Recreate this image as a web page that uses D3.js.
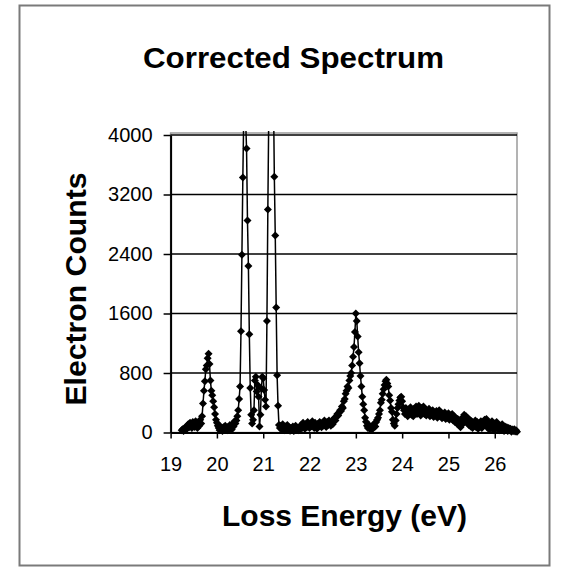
<!DOCTYPE html>
<html><head><meta charset="utf-8">
<script src="https://cdn.jsdelivr.net/npm/d3@7"></script>
<style>
body{margin:0;background:#fff}
svg{display:block}
text{font-family:Arial,"Liberation Sans",sans-serif;fill:#000}
</style></head><body>
<svg id="c" width="571" height="571"></svg>
<script>
const chartTitle = "Corrected Spectrum";
const xTitle = "Loss Energy (eV)";
const yTitle = "Electron Counts";
const xTicks = [19, 20, 21, 22, 23, 24, 25, 26];
const yTicks = [0, 800, 1600, 2400, 3200, 4000];

const energy = [
19.24,19.26,19.28,19.30,19.32,19.34,19.36,19.38,19.40,19.42,
19.44,19.46,19.48,19.50,19.52,19.54,19.56,19.58,19.60,19.62,
19.64,19.66,19.68,19.70,19.72,19.74,19.76,19.78,19.80,19.82,
19.84,19.86,19.88,19.90,19.92,19.94,19.96,19.98,20.00,20.02,
20.04,20.06,20.08,20.10,20.12,20.14,20.16,20.18,20.20,20.22,
20.24,20.26,20.28,20.30,20.32,20.34,20.36,20.38,20.40,20.42,
20.44,20.46,20.48,20.50,20.52,20.54,20.56,20.58,20.60,20.62,
20.64,20.66,20.68,20.70,20.72,20.74,20.76,20.78,20.80,20.82,
20.84,20.86,20.88,20.90,20.92,20.94,20.96,20.98,21.00,21.02,
21.04,21.06,21.08,21.10,21.12,21.14,21.16,21.18,21.20,21.22,
21.24,21.26,21.28,21.30,21.32,21.34,21.36,21.38,21.40,21.42,
21.44,21.46,21.48,21.50,21.52,21.54,21.56,21.58,21.60,21.62,
21.64,21.66,21.68,21.70,21.72,21.74,21.76,21.78,21.80,21.82,
21.84,21.86,21.88,21.90,21.92,21.94,21.96,21.98,22.00,22.02,
22.04,22.06,22.08,22.10,22.12,22.14,22.16,22.18,22.20,22.22,
22.24,22.26,22.28,22.30,22.32,22.34,22.36,22.38,22.40,22.42,
22.44,22.46,22.48,22.50,22.52,22.54,22.56,22.58,22.60,22.62,
22.64,22.66,22.68,22.70,22.72,22.74,22.76,22.78,22.80,22.82,
22.84,22.86,22.88,22.90,22.92,22.94,22.96,22.98,23.00,23.02,
23.04,23.06,23.08,23.10,23.12,23.14,23.16,23.18,23.20,23.22,
23.24,23.26,23.28,23.30,23.32,23.34,23.36,23.38,23.40,23.42,
23.44,23.46,23.48,23.50,23.52,23.54,23.56,23.58,23.60,23.62,
23.64,23.66,23.68,23.70,23.72,23.74,23.76,23.78,23.80,23.82,
23.84,23.86,23.88,23.90,23.92,23.94,23.96,23.98,24.00,24.02,
24.04,24.06,24.08,24.10,24.12,24.14,24.16,24.18,24.20,24.22,
24.24,24.26,24.28,24.30,24.32,24.34,24.36,24.38,24.40,24.42,
24.44,24.46,24.48,24.50,24.52,24.54,24.56,24.58,24.60,24.62,
24.64,24.66,24.68,24.70,24.72,24.74,24.76,24.78,24.80,24.82,
24.84,24.86,24.88,24.90,24.92,24.94,24.96,24.98,25.00,25.02,
25.04,25.06,25.08,25.10,25.12,25.14,25.16,25.18,25.20,25.22,
25.24,25.26,25.28,25.30,25.32,25.34,25.36,25.38,25.40,25.42,
25.44,25.46,25.48,25.50,25.52,25.54,25.56,25.58,25.60,25.62,
25.64,25.66,25.68,25.70,25.72,25.74,25.76,25.78,25.80,25.82,
25.84,25.86,25.88,25.90,25.92,25.94,25.96,25.98,26.00,26.02,
26.04,26.06,26.08,26.10,26.12,26.14,26.16,26.18,26.20,26.22,
26.24,26.26,26.28,26.30,26.32,26.34,26.36,26.38,26.40,26.42,
26.44,26.46,26.48
];

const counts = [
30,45,20,60,40,80,55,110,70,130,
90,60,140,100,75,150,110,60,130,90,
170,120,220,390,560,690,850,900,1000,1060,
920,700,560,500,420,340,250,170,130,90,
60,30,80,45,20,70,40,90,55,30,
75,50,100,60,40,110,80,150,120,160,
220,300,450,620,1360,2390,3430,4300,4600,4200,
3820,2850,2240,1320,600,240,120,170,300,700,
750,550,640,480,80,240,590,750,730,570,
440,350,1500,3000,4300,5300,5800,5600,5200,4600,
3440,2650,1680,770,360,100,60,90,40,110,
70,30,80,55,100,40,70,25,60,35,
80,20,50,90,40,65,30,75,45,100,
60,130,80,50,110,70,140,90,60,120,
85,150,95,60,130,90,50,115,80,140,
100,70,130,95,160,110,75,140,100,160,
120,90,150,110,170,200,160,210,250,230,
270,300,290,350,330,420,450,520,560,620,
600,700,760,800,900,1020,1150,1350,1600,1500,
1290,1080,930,760,620,480,380,300,200,145,
90,60,100,50,80,40,90,60,120,80,
140,170,200,250,300,400,440,520,580,640,
690,710,660,620,500,430,330,280,170,120,
90,160,250,330,380,430,470,480,420,340,
300,250,330,280,220,310,260,340,240,300,
220,320,270,350,250,310,360,280,230,330,
290,350,250,310,230,290,250,320,220,280,
240,300,210,270,230,290,200,260,300,220,
270,190,250,210,270,180,240,200,260,170,
230,190,250,160,220,140,200,120,180,100,
160,70,140,200,120,240,170,220,130,190,
100,170,80,150,60,130,90,160,70,140,
50,120,80,150,60,130,90,170,110,180,
70,140,40,110,60,150,80,30,120,60,
140,50,100,30,90,40,110,60,20,80,
40,70,20,60,30,50,10,40,20,45,
15,30,10
];

const data = energy.map((e, i) => ({e: e, c: counts[i]}));

const svg = d3.select("#c");
const L = 170.6, R = 517, T = 135, B = 432.5, clipTop = 131;

const x = d3.scaleLinear().domain([19, 26.48]).range([L, R]);
const y = d3.scaleLinear().domain([0, 4000]).range([B, T]);

// outer frame
svg.append("rect").attr("x", 19.5).attr("y", 5.5).attr("width", 530).attr("height", 560)
  .attr("fill", "#fff").attr("stroke", "#7a7a7a").attr("stroke-width", 2);

// title
svg.append("text").attr("x", 293.5).attr("y", 68).attr("text-anchor", "middle")
  .attr("textLength", 301).attr("lengthAdjust", "spacingAndGlyphs")
  .style("font-size", "29px").style("font-weight", "bold").text(chartTitle);

// plot area border (grey)
svg.append("rect").attr("x", L).attr("y", 133).attr("width", R - L).attr("height", B - 133)
  .attr("fill", "none").attr("stroke", "#9a9a9a").attr("stroke-width", 1.5);

// gridlines
svg.append("g").selectAll("line").data(yTicks.filter(d => d > 0)).join("line")
  .attr("x1", L).attr("x2", R).attr("y1", d => y(d)).attr("y2", d => y(d))
  .attr("stroke", "#000").attr("stroke-width", 1.6);

// axes
const yAxis = d3.axisLeft(y).tickValues(yTicks).tickSize(7).tickSizeOuter(0).tickPadding(11)
  .tickFormat(d3.format("d"));
const gy = svg.append("g").attr("transform", `translate(${L},0)`).call(yAxis);
gy.select(".domain").attr("stroke", "#000").attr("stroke-width", 2);
gy.selectAll(".tick line").attr("stroke", "#000").attr("stroke-width", 1.5);
gy.selectAll(".tick text").style("font-size", "20px").style("font-family", "Arial, 'Liberation Sans', sans-serif");

const xAxis = d3.axisBottom(x).tickValues(xTicks).tickSize(6).tickSizeOuter(0).tickPadding(18)
  .tickFormat(d3.format("d"));
const gx = svg.append("g").attr("transform", `translate(0,${B})`).call(xAxis);
gx.select(".domain").attr("stroke", "#000").attr("stroke-width", 2);
gx.selectAll(".tick line").attr("stroke", "#000").attr("stroke-width", 1.5);
gx.selectAll(".tick text").style("font-size", "20px").style("font-family", "Arial, 'Liberation Sans', sans-serif");

// axis titles
svg.append("text").attr("transform", "translate(86,289) rotate(-90)").attr("text-anchor", "middle")
  .attr("textLength", 233).attr("lengthAdjust", "spacingAndGlyphs")
  .style("font-size", "30px").style("font-weight", "bold").text(yTitle);
svg.append("text").attr("x", 344.5).attr("y", 526).attr("text-anchor", "middle")
  .attr("textLength", 245).attr("lengthAdjust", "spacingAndGlyphs")
  .style("font-size", "30px").style("font-weight", "bold").text(xTitle);

// clip
svg.append("clipPath").attr("id", "pc").append("rect")
  .attr("x", L).attr("y", clipTop).attr("width", R - L + 4).attr("height", B - clipTop + 6);

const plot = svg.append("g").attr("clip-path", "url(#pc)");
const line = d3.line().x(d => x(d.e)).y(d => y(d.c));
plot.append("path").datum(data).attr("d", line)
  .attr("fill", "none").attr("stroke", "#000").attr("stroke-width", 1.5);

const diamondPath = "M0,-4L4,0L0,4L-4,0Z";
plot.append("g").selectAll("path").data(data).join("path")
  .attr("transform", d => `translate(${x(d.e)},${y(d.c)})`)
  .attr("d", diamondPath).attr("fill", "#000");
</script>
</body></html>
